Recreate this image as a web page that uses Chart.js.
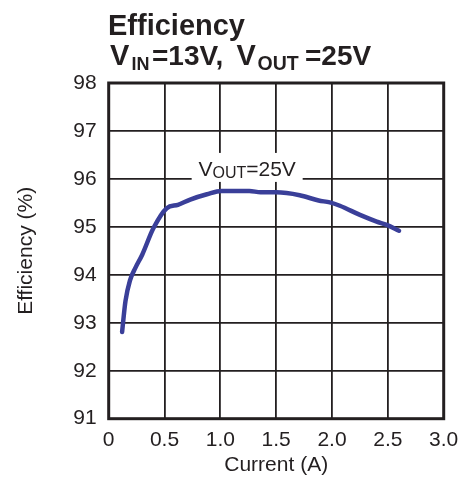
<!DOCTYPE html>
<html>
<head>
<meta charset="utf-8">
<script src="https://cdn.jsdelivr.net/npm/chart.js@4/dist/chart.umd.min.js"></script>
<style>
  html, body { margin: 0; padding: 0; background: #ffffff; }
  #wrap { position: relative; width: 468px; height: 478px; }
</style>
</head>
<body>
<div id="wrap"><canvas id="c" width="468" height="478"></canvas></div>
<script>
// ---- data ----
const current = [0.12, 0.15, 0.19, 0.24, 0.30, 0.40, 0.52, 0.62, 0.73, 0.88, 1.01, 1.26, 1.36, 1.50, 1.71, 1.88, 1.98, 2.07, 2.25, 2.40, 2.49, 2.60];
const efficiency = [92.81, 93.45, 93.88, 94.15, 94.42, 94.97, 95.39, 95.46, 95.57, 95.68, 95.75, 95.75, 95.72, 95.72, 95.66, 95.55, 95.51, 95.44, 95.25, 95.11, 95.04, 94.92];
const xTickLabels = ['0', '0.5', '1.0', '1.5', '2.0', '2.5', '3.0'];
const yTickLabels = ['91', '92', '93', '94', '95', '96', '97', '98'];
const seriesLabel = 'VOUT=25V';
const xTitle = 'Current (A)';
const yTitle = 'Efficiency (%)';

const INK = '#231f20';
const LINE = '#3a3f99';
const FONT = '"Liberation Sans", Arial, sans-serif';

const framePlugin = {
  id: 'frame',
  beforeDatasetsDraw(chart) {
    const a = chart.chartArea, c = chart.ctx;
    c.save();
    c.strokeStyle = INK;
    c.lineWidth = 3;
    c.lineJoin = 'miter';
    c.strokeRect(a.left, a.top, a.right - a.left, a.bottom - a.top);
    c.restore();
  },
  afterDraw(chart) {
    const c = chart.ctx;
    const xs = chart.scales.x, ys = chart.scales.y;
    c.save();
    // series label with white background
    const cx = xs.getPixelForValue(1.24);
    const base = ys.getPixelForValue(96) - 3;
    c.fillStyle = '#ffffff';
    c.fillRect(cx - 55.5, base - 23, 111, 29);
    c.fillStyle = INK;
    c.textBaseline = 'alphabetic';
    c.textAlign = 'left';
    const big = '21px ' + FONT, small = '16px ' + FONT;
    c.font = big; const wV = c.measureText('V').width;
    c.font = small; const wS = c.measureText('OUT').width;
    c.font = big; const wR = c.measureText('=25V').width;
    let x = cx - (wV + wS + wR) / 2;
    c.font = big; c.fillText('V', x, base); x += wV;
    c.font = small; c.fillText('OUT', x, base + 2.3); x += wS;
    c.font = big; c.fillText('=25V', x, base);

    // chart title
    c.font = 'bold 29px ' + FONT;
    c.fillText('Efficiency', 108, 35);
    c.font = 'bold 29px ' + FONT;
    c.fillText('V', 110, 65.3);
    c.font = 'bold 18px ' + FONT;
    c.fillText('IN', 131.5, 69.7);
    c.font = 'bold 28px ' + FONT;
    c.fillText('=13V,', 152, 65.3);
    c.font = 'bold 29px ' + FONT;
    c.fillText('V', 236.5, 65.3);
    c.font = 'bold 19.5px ' + FONT;
    c.fillText('OUT', 257.5, 69.7);
    c.font = 'bold 28px ' + FONT;
    c.fillText('=25V', 305, 65.3);
    c.restore();
  }
};

const points = current.map((v, i) => ({ x: v, y: efficiency[i] }));

new Chart(document.getElementById('c'), {
  type: 'line',
  data: {
    datasets: [{
      label: seriesLabel,
      data: points,
      borderColor: LINE,
      backgroundColor: LINE,
      borderWidth: 4.5,
      borderCapStyle: 'round',
      borderJoinStyle: 'round',
      pointRadius: 0,
      cubicInterpolationMode: 'monotone',
      fill: false
    }]
  },
  options: {
    responsive: false,
    animation: false,
    devicePixelRatio: 1,
    layout: { padding: { left: 0, top: 83, right: 24.3, bottom: 0 } },
    plugins: { legend: { display: false }, tooltip: { enabled: false }, title: { display: false } },
    scales: {
      x: {
        type: 'linear', min: 0, max: 3,
        afterFit(s) { s.height = 59.3; },
        border: { display: false },
        grid: { color: INK, lineWidth: 1.8, drawTicks: false },
        ticks: {
          stepSize: 0.5, padding: 9, color: INK, maxRotation: 0, autoSkip: false,
          font: { family: FONT, size: 21 },
          callback: (v, i) => xTickLabels[i]
        },
        title: { display: true, text: xTitle, color: INK, font: { family: FONT, size: 21 }, padding: { top: 0, bottom: 0 } }
      },
      y: {
        type: 'linear', min: 91, max: 98,
        afterFit(s) { s.width = 108.7; },
        border: { display: false },
        grid: { color: INK, lineWidth: 1.8, drawTicks: false },
        ticks: {
          stepSize: 1, padding: 12, color: INK, autoSkip: false,
          font: { family: FONT, size: 21 },
          callback: (v, i) => yTickLabels[i]
        },
        title: { display: true, text: yTitle, color: INK, font: { family: FONT, size: 21 }, padding: { top: 14, bottom: 0 } }
      }
    }
  },
  plugins: [framePlugin]
});
</script>
</body>
</html>
